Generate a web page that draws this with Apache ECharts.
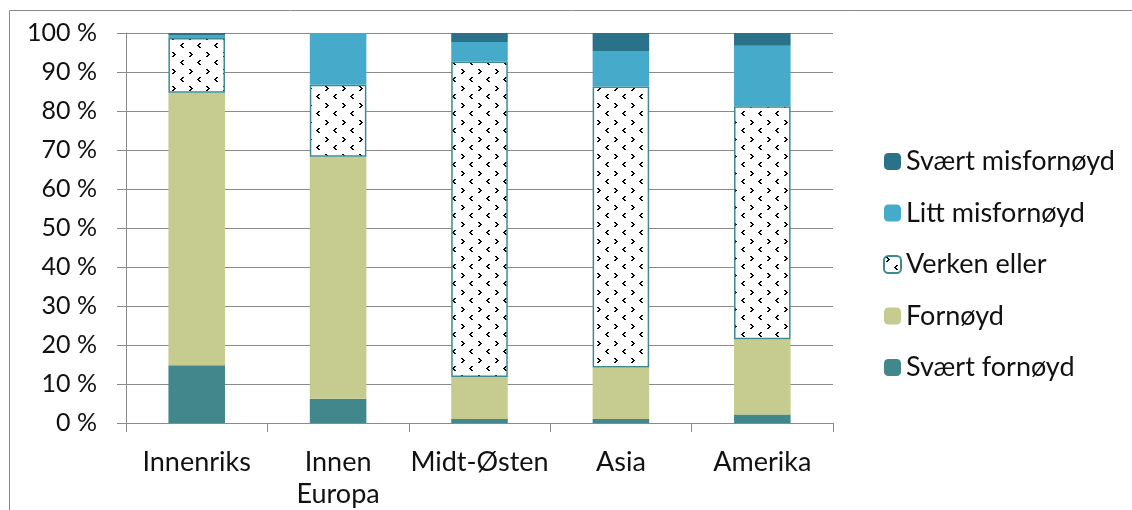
<!DOCTYPE html>
<html>
<head>
<meta charset="utf-8">
<script src="https://cdn.jsdelivr.net/npm/echarts@6/dist/echarts.min.js"></script>
<style>
  html, body { margin: 0; padding: 0; background: #ffffff; }
  #chart { width: 1132px; height: 510px; }
</style>
</head>
<body>
<div id="chart"></div>
<script>
// Regions and satisfaction shares (percent of respondents)
const categories = ['Innenriks', 'Innen Europa', 'Midt-Østen', 'Asia', 'Amerika'];
const svaertFornoyd = [14.8, 6.2, 1.0, 1.0, 2.2];
const fornoyd = [69.9, 62.1, 10.8, 13.2, 19.3];
const verkenEller = [14.0, 18.4, 80.9, 72.1, 59.7];
const littMisfornoyd = [0.8, 13.3, 5.0, 9.1, 15.5];
const svaertMisfornoyd = [0.5, 0, 2.3, 4.6, 3.3];
const legendOrder = ['Svært misfornøyd', 'Litt misfornøyd', 'Verken eller', 'Fornøyd', 'Svært fornøyd'];

const FONT = 'Lato';
const TEXT = '#111111';
const GRID = '#8a8a8a';

// Small bold chevron pattern used for the neutral answers
function chevronPattern() {
  const c = document.createElement('canvas');
  c.width = 17; c.height = 17;
  const ctx = c.getContext('2d');
  ctx.fillStyle = '#ffffff';
  ctx.fillRect(0, 0, c.width, c.height);
  ctx.fillStyle = '#000000';
  // ">" glyph
  const gt = [[0,0],[1,0],[1,1],[2,1],[2,2],[3,2],[1,3],[2,3],[0,4],[1,4]];
  // "<" glyph
  const lt = [[2,0],[3,0],[1,1],[2,1],[0,2],[1,2],[1,3],[2,3],[2,4],[3,4]];
  gt.forEach(p => ctx.fillRect(2 + p[0], 1 + p[1], 1, 1));
  lt.forEach(p => ctx.fillRect(10 + p[0], 9 + p[1], 1, 1));
  return c;
}

const chart = echarts.init(document.getElementById('chart'), null, { renderer: 'canvas' });

function barSeries(name, data, itemStyle) {
  return {
    name: name,
    type: 'bar',
    stack: 'total',
    data: data,
    barWidth: '40%',
    itemStyle: itemStyle,
    emphasis: { disabled: true }
  };
}

chart.setOption({
  animation: false,
  backgroundColor: '#ffffff',
  graphic: [{
    type: 'rect',
    shape: { x: 9.5, y: 10.5, width: 1300, height: 700 },
    style: { fill: 'none', stroke: '#8a8a8a', lineWidth: 1 },
    silent: true
  }],
  grid: { left: 126, right: 299, top: 33, bottom: 86, containLabel: false },
  legend: {
    orient: 'vertical',
    left: 878,
    top: 143,
    itemWidth: 17,
    itemHeight: 17,
    itemGap: 24.5,
    data: legendOrder,
    textStyle: { fontFamily: FONT, fontSize: 27, color: TEXT, lineHeight: 22 }
  },
  xAxis: {
    type: 'category',
    data: categories,
    axisLine: { show: true, lineStyle: { color: GRID, width: 1 } },
    axisTick: { show: true, length: 9, alignWithLabel: false, lineStyle: { color: GRID } },
    axisLabel: {
      fontFamily: FONT, fontSize: 27, color: TEXT, margin: 23, lineHeight: 32,
      interval: 0,
      formatter: v => v.replace(' ', '\n')
    }
  },
  yAxis: {
    type: 'value',
    min: 0,
    max: 100,
    interval: 10,
    axisLine: { show: true, lineStyle: { color: GRID, width: 1 } },
    axisTick: { show: true, length: 9, lineStyle: { color: GRID } },
    splitLine: { show: true, lineStyle: { color: GRID, width: 1 } },
    axisLabel: {
      fontFamily: FONT, fontSize: 25, color: TEXT, margin: 29,
      formatter: '{value} %'
    }
  },
  series: [
    barSeries('Svært fornøyd', svaertFornoyd, { color: '#41878b' }),
    barSeries('Fornøyd', fornoyd, { color: '#c6cc8f' }),
    barSeries('Verken eller', verkenEller, {
      color: { image: chevronPattern(), repeat: 'repeat' },
      borderColor: '#3f8a90',
      borderWidth: 1.5
    }),
    barSeries('Litt misfornøyd', littMisfornoyd, { color: '#46aacb' }),
    barSeries('Svært misfornøyd', svaertMisfornoyd, { color: '#2a7289' })
  ]
});
</script>
</body>
</html>
